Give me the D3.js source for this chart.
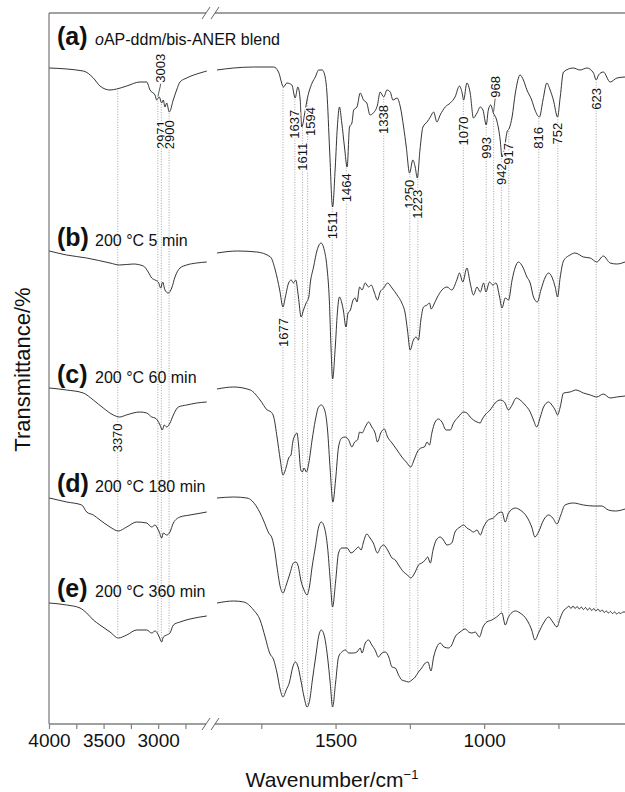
<!DOCTYPE html>
<html>
  <head>
    <meta charset="utf-8">
    <title>FTIR spectra of the oAP-ddm/bis-ANER blend</title>
    <meta name="viewport" content="width=device-width, initial-scale=1.0">
    <script src="https://cdn.jsdelivr.net/npm/d3@7/dist/d3.min.js"></script>
    <style>
      body { margin: 0; background: #fff; }
      #chart { display: block; font-family: "Liberation Sans", Arial, Helvetica, sans-serif; }
      .frame { stroke: #808080; stroke-width: 1.3; fill: none; }
      .spectrum { fill: none; stroke: #1e1e1e; stroke-width: 0.9; stroke-linejoin: round; }
      .guide { stroke: #8c8c8c; stroke-width: 0.8; stroke-dasharray: 1 1.6; }
      .leader { stroke: #333; stroke-width: 0.8; }
      .peak { font-size: 13px; fill: #111; paint-order: stroke; stroke: #fff; stroke-width: 2.5; }
      .axis text { font-size: 19px; fill: #111; font-family: "Liberation Sans", Arial, sans-serif; }
      .axis line { stroke: #808080; stroke-width: 1.2; }
    </style>
  </head>

  <body>
    <svg id="chart" width="625" height="792"></svg>

    <script>
      // spectra: [wavenumber cm-1, transmittance (stacked, arbitrary units)]
      specA = [
        [3997,656],[3686,653],[3594,646],[3533,638],[3441,634],[3380,635],[3288,638],[3167,642],[3105,642],[3075,634],[3029,629],[3014,624],[2990,627],[2968,621],[2953,624],[2938,617],[2922,621],[2898,612],[2862,624],[2831,634],[2800,642],[2739,646],[2617,651],[2555,653],
        [1899,654],[1843,656],[1776,657],[1708,657],[1692,652],[1675,637],[1664,641],[1647,639],[1636,626],[1627,637],[1619,624],[1614,597],[1602,614],[1596,624],[1579,641],[1568,647],[1557,654],[1545,654],[1535,647],[1529,631],[1520,574],[1510,517],[1501,557],[1494,597],[1487,617],[1479,601],[1470,577],[1461,557],[1453,597],[1445,601],[1439,614],[1428,617],[1417,631],[1406,624],[1395,621],[1384,609],[1373,611],[1359,619],[1350,632],[1338,627],[1327,634],[1316,632],[1307,624],[1293,626],[1282,617],[1271,597],[1262,577],[1251,551],[1240,564],[1232,557],[1225,546],[1216,574],[1206,597],[1192,602],[1181,607],[1170,612],[1159,602],[1148,609],[1131,617],[1114,621],[1098,627],[1083,638],[1074,631],[1069,624],[1058,641],[1047,631],[1036,606],[1024,611],[1013,617],[1004,614],[993,599],[986,614],[978,619],[969,611],[958,604],[946,584],[940,567],[931,577],[923,592],[915,596],[906,607],[895,631],[879,649],[868,644],[856,634],[840,624],[829,614],[814,607],[802,624],[789,641],[778,634],[767,624],[753,607],[744,627],[733,652],[700,656],[677,654],[654,656],[632,651],[623,644],[615,649],[599,652],[576,642],[553,646],[526,647]
      ];
      specB = [
        [3997,473],[3838,469],[3655,466],[3441,461],[3353,459],[3228,460],[3136,458],[3091,452],[3059,446],[3029,444],[2999,442],[2977,436],[2959,442],[2938,434],[2907,431],[2876,436],[2846,447],[2800,456],[2739,459],[2647,461],[2555,462],
        [1899,471],[1831,473],[1765,472],[1719,467],[1703,454],[1688,434],[1677,417],[1669,427],[1658,441],[1649,444],[1642,441],[1634,444],[1625,427],[1616,407],[1608,414],[1599,421],[1590,427],[1585,441],[1574,457],[1562,474],[1549,481],[1538,474],[1529,457],[1521,424],[1515,374],[1510,345],[1501,377],[1494,411],[1487,427],[1479,421],[1474,414],[1465,397],[1458,411],[1450,414],[1441,424],[1434,426],[1428,422],[1419,437],[1411,434],[1400,441],[1389,437],[1380,439],[1370,432],[1359,424],[1350,432],[1338,436],[1325,441],[1310,436],[1293,429],[1277,421],[1266,411],[1258,394],[1249,374],[1238,384],[1229,387],[1221,384],[1213,404],[1204,417],[1192,419],[1184,421],[1178,415],[1170,419],[1159,426],[1142,434],[1125,437],[1109,434],[1092,444],[1083,451],[1072,442],[1058,456],[1047,441],[1036,429],[1024,437],[1013,432],[1002,441],[994,432],[982,442],[971,439],[960,441],[948,427],[940,416],[929,426],[918,424],[906,444],[895,457],[885,462],[870,457],[856,447],[845,441],[834,427],[821,422],[809,434],[794,447],[783,451],[772,447],[761,437],[753,427],[744,447],[733,463],[711,469],[694,471],[666,467],[643,466],[621,462],[599,468],[576,461],[554,460],[526,462]
      ];
      specC = [
        [3997,336],[3838,334],[3686,331],[3594,324],[3503,316],[3411,309],[3353,307],[3292,309],[3167,312],[3105,311],[3059,307],[3029,306],[3008,304],[2983,299],[2962,294],[2944,299],[2922,297],[2892,301],[2861,309],[2815,317],[2739,319],[2647,321],[2555,322],
        [1899,335],[1843,337],[1787,334],[1754,324],[1730,314],[1717,312],[1708,307],[1697,287],[1686,264],[1677,249],[1666,257],[1658,266],[1650,269],[1644,282],[1636,289],[1630,291],[1625,281],[1617,254],[1612,252],[1606,256],[1598,252],[1590,261],[1579,284],[1568,304],[1557,317],[1548,319],[1535,312],[1527,294],[1518,254],[1509,222],[1500,244],[1490,277],[1479,286],[1467,287],[1456,284],[1445,277],[1436,282],[1426,284],[1419,292],[1411,291],[1400,297],[1389,302],[1378,297],[1367,291],[1359,282],[1348,291],[1336,295],[1325,287],[1310,281],[1293,274],[1277,267],[1262,262],[1247,257],[1236,264],[1225,272],[1213,276],[1201,277],[1192,282],[1184,279],[1176,291],[1165,302],[1154,305],[1142,302],[1128,294],[1114,294],[1103,301],[1087,307],[1069,312],[1058,311],[1047,307],[1036,304],[1024,302],[1013,301],[1008,304],[997,309],[980,314],[963,321],[946,324],[932,322],[918,314],[906,319],[892,326],[879,324],[862,319],[845,312],[834,304],[823,297],[811,307],[800,317],[783,322],[772,319],[761,314],[753,309],[744,317],[733,331],[711,332],[691,334],[666,331],[643,329],[621,327],[599,330],[576,326],[554,327],[526,328]
      ];
      specD = [
        [3997,226],[3838,222],[3700,219],[3655,212],[3594,209],[3533,204],[3441,197],[3365,193],[3288,197],[3197,202],[3105,201],[3059,197],[3029,199],[3008,196],[2990,192],[2968,186],[2953,191],[2922,189],[2892,192],[2861,201],[2800,207],[2708,209],[2555,212],
        [1899,226],[1843,227],[1798,226],[1765,217],[1743,204],[1725,191],[1714,186],[1705,174],[1697,157],[1686,137],[1677,131],[1666,139],[1653,151],[1642,161],[1633,162],[1625,157],[1617,144],[1606,134],[1596,129],[1588,137],[1579,157],[1568,177],[1557,197],[1548,202],[1537,196],[1527,177],[1518,144],[1510,117],[1500,142],[1490,171],[1479,176],[1461,176],[1448,171],[1434,174],[1423,177],[1414,174],[1406,182],[1395,190],[1384,186],[1373,181],[1359,171],[1348,177],[1338,179],[1325,174],[1310,166],[1299,164],[1288,159],[1271,152],[1258,149],[1247,146],[1232,152],[1221,159],[1210,161],[1198,164],[1190,167],[1181,161],[1172,174],[1161,184],[1148,187],[1137,184],[1125,179],[1109,181],[1098,192],[1081,197],[1069,199],[1058,196],[1047,194],[1036,192],[1024,194],[1013,189],[1002,197],[986,204],[969,206],[952,211],[940,212],[929,202],[918,211],[895,216],[879,214],[856,207],[840,197],[829,187],[817,192],[800,204],[783,209],[769,206],[755,200],[742,209],[728,219],[700,221],[666,219],[632,218],[604,218],[582,214],[559,213],[526,215]
      ];
      specE = [
        [3997,121],[3838,119],[3716,116],[3655,111],[3594,104],[3533,99],[3441,92],[3365,86],[3288,89],[3197,94],[3105,94],[3059,91],[3029,93],[3008,91],[2990,87],[2968,82],[2953,87],[2922,89],[2892,91],[2861,99],[2800,102],[2708,105],[2555,108],
        [1899,121],[1843,123],[1809,122],[1776,114],[1754,104],[1737,87],[1722,71],[1708,64],[1697,51],[1686,34],[1677,27],[1666,34],[1655,42],[1644,57],[1635,62],[1626,57],[1617,44],[1606,27],[1596,17],[1587,24],[1578,44],[1567,67],[1556,89],[1548,94],[1537,87],[1527,67],[1518,41],[1510,17],[1500,41],[1490,67],[1479,72],[1467,74],[1456,71],[1439,71],[1428,72],[1417,76],[1411,71],[1400,81],[1389,84],[1378,79],[1367,74],[1356,67],[1344,71],[1332,72],[1321,67],[1310,57],[1299,56],[1288,49],[1277,44],[1266,43],[1255,42],[1243,44],[1232,47],[1221,52],[1210,56],[1198,61],[1189,62],[1179,53],[1170,67],[1159,77],[1148,81],[1135,77],[1120,76],[1109,79],[1098,87],[1081,92],[1063,95],[1052,92],[1041,91],[1030,92],[1016,87],[1004,97],[991,102],[974,104],[958,107],[940,111],[929,99],[918,107],[895,113],[879,111],[856,104],[840,94],[829,84],[817,91],[800,101],[783,107],[769,102],[755,97],[744,106],[731,114],
        [722,116],[715,118],[708,115.5],[701,118],[694,115.5],[687,117.5],[680,115],[673,117],[666,114.5],[659,116.5],[652,114],[645,116],[638,113.5],[631,115.5],[624,113],[617,115],[610,112.5],[603,114],[596,111.5],[589,113],[582,111],[575,112.5],[568,110.5],[561,112],[554,110],[547,111.5],[540,110.5],[533,112],[526,112]
      ];

      // panel captions
      panelKeys = ["a", "b", "c", "d", "e"];
      panelText = ["AP-ddm/bis-ANER blend", "200 °C 5 min", "200 °C 60 min", "200 °C 180 min", "200 °C 360 min"];

      // assigned bands and the spectrum each label sits on
      peakWavenumbers = [3370, 3003, 2971, 2900, 1677, 1637, 1611, 1594, 1511, 1464, 1338, 1250, 1223, 1070, 993, 968, 942, 917, 816, 752, 623];
      peakSpectrum = ["c", "a", "a", "a", "b", "a", "a", "a", "a", "a", "a", "a", "a", "a", "a", "a", "a", "a", "a", "a", "a"];

      // axis ticks
      ticksHigh = [4000, 3750, 3500, 3250, 3000, 2750];
      ticksLow = [1750, 1500, 1250, 1000, 750];
      tickLabels = [4000, 3500, 3000, 1500, 1000];

      // layout (pixels)
      plotLeft = 49; plotRight = 625; plotTop = 13; plotBottom = 724;
      captionBaseline = [45, 246, 383, 492, 597];
      labelLayout = {
        3370: { side: "below", gap: 7 }, 3003: { side: "above", gap: 16, dx: 3 },
        2971: { side: "below", gap: 18 }, 2900: { side: "below", gap: 9 },
        1677: { side: "below", gap: 11 }, 1637: { side: "below", gap: 13 },
        1611: { side: "below", gap: 20 }, 1594: { side: "below", gap: 9, dx: 3 },
        1511: { side: "below", gap: 10 }, 1464: { side: "below", gap: 13 },
        1338: { side: "below", gap: 8 }, 1250: { side: "below", gap: 8 },
        1223: { side: "below", gap: 18 }, 1070: { side: "below", gap: 18 },
        993: { side: "below", gap: 12 }, 968: { side: "above", gap: 16, dx: 1.5 },
        942: { side: "below", gap: 12 }, 917: { side: "below", gap: 14 },
        816: { side: "below", gap: 11 }, 752: { side: "below", gap: 8 },
        623: { side: "below", gap: 8 }
      };

      specs = { a: specA, b: specB, c: specC, d: specD, e: specE };
      svg = d3.select("#chart");

      // scales: broken wavenumber axis
      xHigh = d3.scaleLinear()
        .domain([4000, 2550])
        .range([plotLeft, 207.3]);
      xLow = d3.scaleLinear()
        .domain([1900, 526])
        .range([216.7, plotRight]);
      y = d3.scaleLinear()
        .domain([0, 711])
        .range([plotBottom, plotTop]);

      function xOf(wn) { return wn > 2200 ? xHigh(wn) : xLow(wn); }

      function valueAt(spec, wn) {
        for (i = 0; i < spec.length - 1; i++) {
          p = spec[i]; q = spec[i + 1];
          if (wn <= p[0] && wn >= q[0]) return p[1] + (q[1] - p[1]) * (p[0] - wn) / (p[0] - q[0]);
        }
        return spec[spec.length - 1][1];
      }

      // frame with break marks
      breakMid = (xHigh.range()[1] + xLow.range()[0]) / 2;
      frame = svg.append("g");
      [plotTop, plotBottom].forEach(function(yy) {
        frame.append("line").classed("frame", true)
          .attr("x1", plotLeft).attr("x2", breakMid - 6).attr("y1", yy).attr("y2", yy);
        frame.append("line").classed("frame", true)
          .attr("x1", breakMid + 3).attr("x2", plotRight).attr("y1", yy).attr("y2", yy);
        [-6, 3].forEach(function(off) {
          frame.append("line")
            .attr("x1", breakMid + off - 4).attr("x2", breakMid + off + 4)
            .attr("y1", yy + 6).attr("y2", yy - 6)
            .attr("stroke", "#555").attr("stroke-width", 0.9);
        });
      });
      frame.append("line").classed("frame", true)
        .attr("x1", plotLeft).attr("x2", plotLeft).attr("y1", plotTop).attr("y2", plotBottom);

      // axes
      fmt = function(d) { return tickLabels.indexOf(d) >= 0 ? d : ""; };
      [[xHigh, ticksHigh], [xLow, ticksLow]].forEach(function(pair) {
        g = svg.append("g")
          .attr("class", "axis")
          .attr("transform", "translate(0," + plotBottom + ")")
          .call(d3.axisBottom(pair[0]).tickValues(pair[1]).tickSize(5).tickSizeOuter(0).tickPadding(5).tickFormat(fmt));
        g.select(".domain").remove();
      });

      // guide lines through the assigned bands
      svg.append("g")
        .selectAll("line")
          .data(peakWavenumbers)
        .enter().append("line")
          .classed("guide", true)
          .attr("x1", function(d) { return xOf(d); })
          .attr("x2", function(d) { return xOf(d); })
          .attr("y1", function(d) { return y(valueAt(specA, d)) + 2; })
          .attr("y2", function(d) { return y(valueAt(specE, d)) - 1; });

      // spectra, one path per axis segment
      line = function(scale) {
        return d3.line()
          .x(function(d) { return scale(d[0]); })
          .y(function(d) { return y(d[1]); })
          .curve(d3.curveMonotoneX);
      };
      panelKeys.forEach(function(k) {
        svg.append("path").classed("spectrum", true)
          .attr("d", line(xHigh)(specs[k].filter(function(d) { return d[0] > 2200; })));
        svg.append("path").classed("spectrum", true)
          .attr("d", line(xLow)(specs[k].filter(function(d) { return d[0] < 2200; })));
      });

      // band labels
      peaks = peakWavenumbers.map(function(wn, i) {
        lay = labelLayout[wn];
        yv = y(valueAt(specs[peakSpectrum[i]], wn));
        return {
          wn: wn, lay: lay, x: xOf(wn), yv: yv,
          ty: lay.side === "above" ? yv - lay.gap : yv + lay.gap
        };
      });
      svg.append("g")
        .selectAll("line")
          .data(peaks.filter(function(d) { return d.lay.side === "above"; }))
        .enter().append("line")
          .classed("leader", true)
          .attr("x1", function(d) { return d.x + (d.lay.dx || 0); })
          .attr("y1", function(d) { return d.ty + 1; })
          .attr("x2", function(d) { return d.x; })
          .attr("y2", function(d) { return d.yv - 2; });
      svg.append("g")
        .selectAll("text")
          .data(peaks)
        .enter().append("text")
          .classed("peak", true)
          .attr("transform", function(d) { return "translate(" + (d.x + (d.lay.dx || 0)) + "," + d.ty + ") rotate(-90)"; })
          .attr("text-anchor", function(d) { return d.lay.side === "above" ? "start" : "end"; })
          .attr("dy", "0.35em")
          .text(function(d) { return d.wn; });

      // panel captions
      captions = svg.append("g")
        .selectAll("g")
          .data(panelKeys)
        .enter().append("g")
          .attr("transform", function(d, i) { return "translate(0," + captionBaseline[i] + ")"; });
      captions.append("text")
        .attr("x", 57)
        .style("font-size", "25px")
        .style("font-weight", "bold")
        .attr("fill", "#111")
        .text(function(d) { return "(" + d + ")"; });
      captionText = captions.append("text")
        .attr("x", 95)
        .style("font-size", "16px")
        .attr("fill", "#111");
      captionText.filter(function(d) { return d === "a"; })
        .append("tspan").style("font-style", "italic").text("o");
      captionText.append("tspan")
        .text(function(d, i) { return panelText[i]; });

      // axis titles
      svg.append("text")
        .attr("transform", "translate(22," + ((plotTop + plotBottom) / 2 + 1) + ") rotate(-90)")
        .attr("text-anchor", "middle")
        .attr("dy", "0.35em")
        .style("font-size", "22px")
        .attr("fill", "#111")
        .text("Transmittance/%");
      xTitle = svg.append("text")
        .attr("x", 332)
        .attr("y", 787)
        .attr("text-anchor", "middle")
        .style("font-size", "21px")
        .attr("fill", "#111");
      xTitle.append("tspan").text("Wavenumber/cm");
      xTitle.append("tspan").attr("dy", -8).style("font-size", "13px").text("\u22121");
    </script>
  </body>
</html>
